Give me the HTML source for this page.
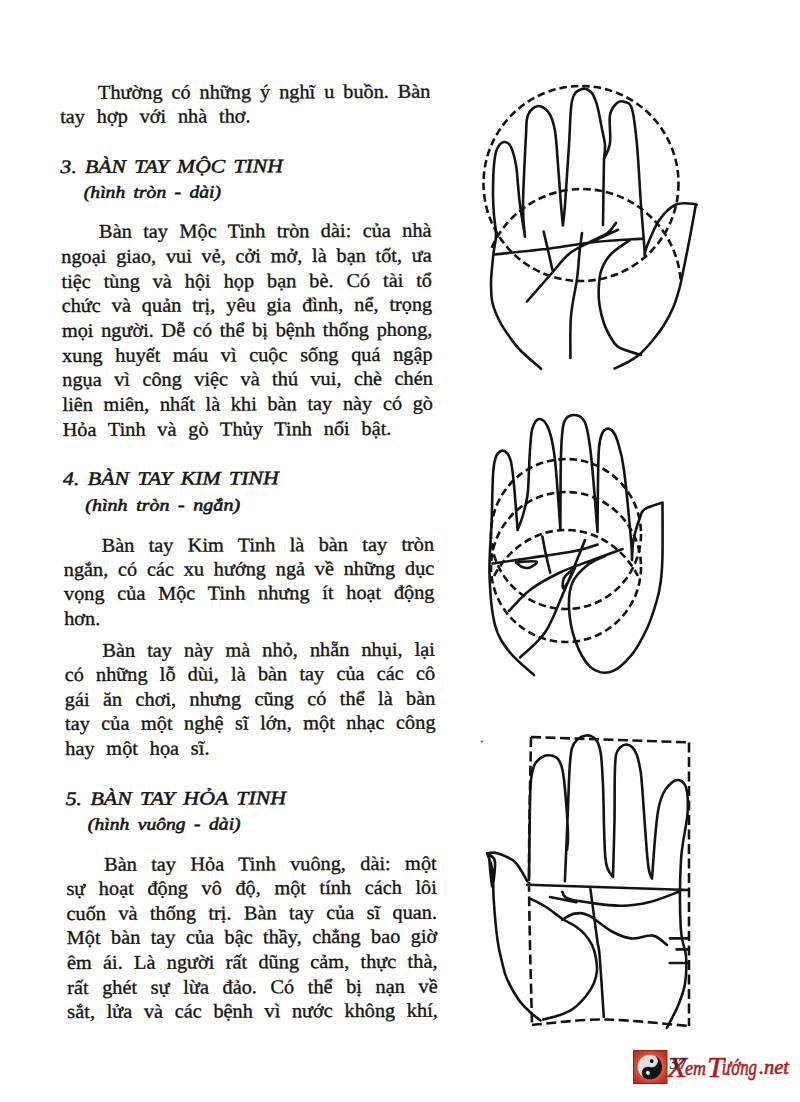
<!DOCTYPE html>
<html><head><meta charset="utf-8"><style>
html,body{margin:0;padding:0;background:#fff;}
body{width:800px;height:1102px;position:relative;overflow:hidden;}
#tx{position:absolute;left:0;top:0;width:800px;height:1102px;transform-origin:60px 98px;transform:matrix(1,-0.0035,0.008,1,0,0);color:#141414;-webkit-text-stroke:0.35px #141414;}
#tx div{position:absolute;height:24px;line-height:24px;white-space:nowrap;transform-origin:0 0;}
#tx .bj,#tx .bl{font-family:"Liberation Serif",serif;font-size:19.5px;transform:scaleX(1.04);white-space:normal;overflow:visible;}
#tx .bj{text-align:justify;text-align-last:justify;}
#tx .bl{text-align:left;word-spacing:6.5px;}
#tx .hd{font-family:"Liberation Serif",serif;font-style:italic;font-size:19.0px;word-spacing:2.5px;-webkit-text-stroke:0.5px #141414;}
#tx .sb{font-family:"Liberation Serif",serif;font-style:italic;font-weight:normal;-webkit-text-stroke:0.6px #141414;font-size:17.0px;word-spacing:3px;}
svg{position:absolute;left:0;top:0;}
</style></head><body>
<div id="tx">
<div class="bj" style="top:80.62px;left:97.50px;width:319.71px">Thường có những ý nghĩ u buồn. Bàn</div>
<div class="bl" style="top:105.12px;left:59.50px;width:356.25px">tay hợp với nhà thơ.</div>
<div class="hd" style="top:154.59px;left:59.50px;transform:scaleX(1.1403)">3. BÀN TAY MỘC TINH</div>
<div class="sb" style="top:181.01px;left:83.00px;transform:scaleX(1.1533)">(hình tròn - dài)</div>
<div class="bj" style="top:220.12px;left:97.50px;width:319.71px">Bàn tay Mộc Tinh tròn dài: của nhà</div>
<div class="bj" style="top:244.82px;left:59.50px;width:356.25px">ngoại giao, vui vẻ, cởi mở, là bạn tốt, ưa</div>
<div class="bj" style="top:269.82px;left:59.50px;width:356.25px">tiệc tùng và hội họp bạn bè. Có tài tổ</div>
<div class="bj" style="top:294.32px;left:59.50px;width:356.25px">chức và quản trị, yêu gia đình, nể, trọng</div>
<div class="bj" style="top:318.82px;left:59.50px;width:356.25px">mọi người. Dễ có thể bị bệnh thống phong,</div>
<div class="bj" style="top:343.92px;left:59.50px;width:356.25px">xung huyết máu vì cuộc sống quá ngập</div>
<div class="bj" style="top:368.02px;left:59.50px;width:356.25px">ngụa vì công việc và thú vui, chè chén</div>
<div class="bj" style="top:392.92px;left:59.50px;width:356.25px">liên miên, nhất là khi bàn tay này có gò</div>
<div class="bl" style="top:417.62px;left:59.50px;width:356.25px">Hỏa Tinh và gò Thủy Tinh nổi bật.</div>
<div class="hd" style="top:467.19px;left:59.50px;transform:scaleX(1.1507)">4. BÀN TAY KIM TINH</div>
<div class="sb" style="top:494.16px;left:82.00px;transform:scaleX(1.1788)">(hình tròn - ngắn)</div>
<div class="bj" style="top:533.52px;left:97.50px;width:319.71px">Bàn tay Kim Tinh là bàn tay tròn</div>
<div class="bj" style="top:557.52px;left:59.50px;width:356.25px">ngắn, có các xu hướng ngả về những dục</div>
<div class="bj" style="top:582.02px;left:59.50px;width:356.25px">vọng của Mộc Tinh nhưng ít hoạt động</div>
<div class="bl" style="top:606.62px;left:59.50px;width:356.25px">hơn.</div>
<div class="bj" style="top:639.12px;left:97.50px;width:319.71px">Bàn tay này mà nhỏ, nhẵn nhụi, lại</div>
<div class="bj" style="top:663.02px;left:59.50px;width:356.25px">có những lỗ dùi, là bàn tay của các cô</div>
<div class="bj" style="top:687.72px;left:59.50px;width:356.25px">gái ăn chơi, nhưng cũng có thể là bàn</div>
<div class="bj" style="top:712.42px;left:59.50px;width:356.25px">tay của một nghệ sĩ lớn, một nhạc công</div>
<div class="bl" style="top:737.12px;left:59.50px;width:356.25px">hay một họa sĩ.</div>
<div class="hd" style="top:786.59px;left:59.50px;transform:scaleX(1.1518)">5. BÀN TAY HỎA TINH</div>
<div class="sb" style="top:812.86px;left:82.00px;transform:scaleX(1.1554)">(hình vuông - dài)</div>
<div class="bj" style="top:852.82px;left:97.50px;width:319.71px">Bàn tay Hỏa Tinh vuông, dài: một</div>
<div class="bj" style="top:877.42px;left:59.50px;width:356.25px">sự hoạt động vô độ, một tính cách lôi</div>
<div class="bj" style="top:901.92px;left:59.50px;width:356.25px">cuốn và thống trị. Bàn tay của sĩ quan.</div>
<div class="bj" style="top:926.42px;left:59.50px;width:356.25px">Một bàn tay của bậc thầy, chẳng bao giờ</div>
<div class="bj" style="top:951.02px;left:59.50px;width:356.25px">êm ái. Là người rất dũng cảm, thực thà,</div>
<div class="bj" style="top:976.02px;left:59.50px;width:356.25px">rất ghét sự lừa đảo. Có thể bị nạn về</div>
<div class="bj" style="top:1000.22px;left:59.50px;width:356.25px">sắt, lửa và các bệnh vì nước không khí,</div>
</div>
<svg width="800" height="1102" viewBox="0 0 800 1102" fill="none" stroke="#141414" stroke-width="2.6" stroke-linecap="round" stroke-linejoin="round">
<path d="M541.0 368.8C537.7 365.8 526.2 356.2 521.0 351.0C515.8 345.8 513.6 342.5 510.0 337.5C506.4 332.5 502.4 326.8 499.5 321.0C496.6 315.2 493.9 309.0 492.5 303.0C491.1 297.0 491.1 290.8 491.0 285.0C490.9 279.2 491.5 273.7 492.0 268.0C492.5 262.3 493.1 256.3 493.8 250.8C494.5 245.3 496.0 241.0 496.0 235.0C496.0 229.0 494.5 221.7 494.0 215.0C493.5 208.3 493.0 203.3 493.0 195.0C493.0 186.7 493.3 172.7 494.0 165.0C494.7 157.3 495.3 152.8 497.0 149.0C498.7 145.2 501.7 142.3 504.0 142.0C506.3 141.7 509.0 143.2 511.0 147.0C513.0 150.8 514.8 158.7 516.0 165.0C517.2 171.3 517.3 178.3 518.0 185.0C518.7 191.7 518.8 196.4 520.0 205.0C521.2 213.6 524.2 231.5 525.0 236.8 M525.0 236.8C524.7 231.5 522.8 222.0 523.0 205.0C523.2 188.0 525.2 150.0 526.0 135.0C526.8 120.0 526.0 119.8 528.0 115.0C530.0 110.2 534.5 106.3 538.0 106.0C541.5 105.7 546.2 108.8 549.0 113.0C551.8 117.2 553.5 122.3 555.0 131.0C556.5 139.7 557.0 152.7 558.0 165.0C559.0 177.3 560.2 194.9 561.0 205.0C561.8 215.1 562.6 222.0 562.9 225.4 M562.9 225.4C563.2 222.0 564.0 218.4 565.0 205.0C566.0 191.6 567.8 162.3 569.0 145.0C570.2 127.7 570.0 110.3 572.0 101.0C574.0 91.7 577.8 90.9 581.0 89.4C584.2 87.9 588.3 89.4 591.0 92.0C593.7 94.6 595.2 98.8 597.0 105.0C598.8 111.2 600.7 122.3 602.0 129.0C603.3 135.7 604.7 140.0 605.0 145.0C605.3 150.0 604.2 156.7 604.0 159.0 M604.0 159.0C605.0 156.3 609.0 150.3 610.0 143.0C611.0 135.7 608.8 121.7 610.0 115.0C611.2 108.3 614.5 105.2 617.0 103.0C619.5 100.8 622.5 101.0 625.0 102.0C627.5 103.0 630.0 101.8 632.0 109.0C634.0 116.2 635.5 129.0 637.0 145.0C638.5 161.0 639.8 188.8 641.0 205.0C642.2 221.2 643.4 234.2 644.0 242.5C644.6 250.8 644.6 252.9 644.7 255.0 M604.0 159.0C603.9 164.2 603.7 179.0 603.5 190.0C603.3 201.0 603.1 219.2 603.0 225.0 M644.7 255.0C645.1 253.5 644.6 251.8 647.0 246.0C649.4 240.2 654.2 227.4 659.0 220.5C663.8 213.6 669.6 207.4 675.6 204.7C681.6 201.9 691.7 203.8 695.0 204.0C698.3 204.2 695.5 205.7 695.6 206.0 M695.6 206.0C694.5 212.0 691.3 230.2 689.0 242.0C686.7 253.8 683.7 269.0 682.0 277.0C680.3 285.0 680.5 284.8 679.0 290.0C677.5 295.2 675.5 302.2 673.0 308.0C670.5 313.8 667.3 319.7 664.0 325.0C660.7 330.3 657.0 335.2 653.0 340.0C649.0 344.8 644.2 350.3 640.0 354.0C635.8 357.7 632.2 359.6 628.0 362.0C623.8 364.4 616.8 367.4 614.5 368.5 M493.8 254.5C503.2 253.5 533.1 250.6 550.0 248.5C566.9 246.4 579.5 243.7 595.0 242.0C610.5 240.3 635.0 239.2 643.0 238.6 M527.0 301.5C531.1 296.8 544.5 281.4 551.5 273.5C558.5 265.6 562.6 259.2 569.0 254.0C575.4 248.8 583.6 245.5 590.0 242.0C596.4 238.5 603.2 236.2 607.5 233.0C611.8 229.8 614.6 224.5 616.0 222.8 M583.0 245.5C585.8 244.2 594.2 240.6 600.0 238.0C605.8 235.4 615.0 231.2 618.0 229.8 M543.6 231.5C544.3 234.6 546.5 243.6 548.0 250.0C549.5 256.4 551.7 266.7 552.4 270.0 M582.0 233.0C581.6 236.2 580.3 244.9 579.5 252.5C578.7 260.1 578.4 268.2 577.0 278.8C575.6 289.4 572.1 302.8 571.0 316.0C569.9 329.2 570.5 351.0 570.4 358.0 M630.0 240.0C626.8 242.3 615.8 249.0 611.0 254.0C606.2 259.0 603.4 264.4 601.4 270.0C599.4 275.6 599.1 281.7 598.8 287.5C598.5 293.3 598.6 299.0 599.5 305.0C600.4 311.0 602.1 318.0 604.0 323.5C605.9 329.0 608.8 334.2 611.0 338.0C613.2 341.8 614.7 344.0 617.0 346.0C619.3 348.0 621.0 348.5 625.0 350.0C629.0 351.5 638.3 354.2 641.0 355.0 M534.0 675.0C530.0 671.2 516.5 660.8 510.0 652.5C503.5 644.2 498.4 638.1 495.0 625.0C491.6 611.9 490.0 591.7 489.5 573.8C489.0 555.8 491.2 534.0 491.8 517.5C492.3 501.0 492.4 484.9 493.0 475.0C493.6 465.1 494.2 462.0 495.5 458.0C496.8 454.0 499.1 451.8 501.0 451.0C502.9 450.2 505.3 451.2 507.0 453.0C508.7 454.8 509.8 456.7 511.0 462.0C512.2 467.3 512.9 473.7 514.0 485.0C515.1 496.3 517.0 522.5 517.6 530.0 M517.6 530.0C518.5 527.5 521.4 520.8 523.0 515.0C524.6 509.2 526.5 502.5 527.5 495.0C528.5 487.5 528.6 477.5 529.0 470.0C529.4 462.5 529.4 457.0 530.0 450.0C530.6 443.0 530.8 433.2 532.5 428.0C534.2 422.8 537.2 418.7 540.0 419.0C542.8 419.3 546.5 423.2 549.0 430.0C551.5 436.8 553.1 443.3 555.0 460.0C556.9 476.7 559.5 518.3 560.4 530.0 M560.4 530.0C560.5 517.5 560.4 472.9 561.0 455.0C561.6 437.1 561.8 429.2 564.0 422.5C566.2 415.8 570.5 415.0 574.0 415.0C577.5 415.0 582.2 415.8 585.0 422.5C587.8 429.2 588.9 436.8 591.0 455.0C593.1 473.2 596.4 519.2 597.5 532.0 M597.5 532.0C597.6 523.3 597.8 494.0 598.0 480.0C598.2 466.0 598.4 455.5 599.0 448.0C599.6 440.5 600.3 438.2 601.5 435.0C602.7 431.8 604.2 429.8 606.0 429.0C607.8 428.2 610.1 428.5 612.0 430.5C613.9 432.5 615.5 434.4 617.5 441.0C619.5 447.6 621.8 453.5 624.0 470.0C626.2 486.5 629.7 525.0 631.0 540.0C632.3 555.0 631.8 556.7 632.0 560.0 M632.0 560.0C632.2 556.7 632.2 547.1 633.5 540.0C634.8 532.9 638.1 522.7 640.0 517.5C641.9 512.3 641.2 511.5 645.0 509.0C648.8 506.5 659.6 503.6 662.5 502.5 M662.5 502.5C662.5 511.2 662.8 541.9 662.5 555.0C662.2 568.1 661.8 573.3 660.8 581.0C659.8 588.7 659.0 593.1 656.7 601.0C654.4 608.9 651.3 619.4 647.0 628.5C642.7 637.6 637.1 648.5 631.0 655.7C624.9 663.0 617.2 670.2 610.4 672.0C603.6 673.8 595.9 671.9 590.0 666.6C584.1 661.3 578.5 649.9 575.0 640.0C571.5 630.1 569.4 617.1 569.0 607.5C568.6 597.9 569.4 589.6 572.5 582.5C575.6 575.4 582.1 569.4 587.5 565.0C592.9 560.6 602.1 557.5 605.0 556.0 M492.5 563.5C498.8 562.6 516.2 560.1 530.0 558.0C543.8 555.9 563.8 553.2 575.0 551.0C586.2 548.8 593.8 545.6 597.5 544.5 M509.0 611.0C512.5 607.5 521.5 596.4 530.0 590.0C538.5 583.6 549.6 577.5 560.0 572.5C570.4 567.5 582.1 563.9 592.5 560.0C602.9 556.1 617.5 550.8 622.5 549.0 M520.0 657.5C524.2 653.3 537.9 642.9 545.0 632.5C552.1 622.1 556.7 608.3 562.5 595.0C568.3 581.7 576.2 561.7 580.0 552.5C583.8 543.3 584.2 542.1 585.0 540.0 M542.4 536.6C543.0 539.7 544.7 549.0 546.0 555.0C547.3 561.0 549.5 569.7 550.2 572.6 M516.0 562.5C517.0 563.2 519.7 566.2 522.0 567.0C524.3 567.8 527.5 568.3 530.0 567.5C532.5 566.7 537.5 563.0 537.0 562.0C536.5 561.0 530.5 561.4 527.0 561.5C523.5 561.6 517.8 562.3 516.0 562.5 M572.0 570.0C570.7 571.3 565.5 575.0 564.0 578.0C562.5 581.0 562.3 587.3 563.0 588.0C563.7 588.7 566.0 585.3 568.0 582.0C570.0 578.7 573.8 570.3 575.0 568.0 M529.0 880.0C529.2 866.7 529.6 817.3 530.0 800.0C530.4 782.7 530.6 782.2 531.5 776.0C532.4 769.8 533.6 766.2 535.5 763.0C537.4 759.8 540.4 757.8 543.0 756.5C545.6 755.2 548.5 755.1 551.0 755.5C553.5 755.9 556.1 756.6 558.0 759.0C559.9 761.4 561.2 764.0 562.5 770.0C563.8 776.0 564.6 784.2 565.5 795.0C566.4 805.8 567.8 825.3 568.0 834.5C568.2 843.7 567.2 847.4 567.0 850.0 M564.9 881.2C565.3 871.0 566.7 838.5 567.5 820.0C568.3 801.5 568.8 782.0 569.5 770.0C570.2 758.0 570.6 753.2 572.0 748.0C573.4 742.8 575.7 741.1 578.0 739.0C580.3 736.9 583.5 735.8 586.0 735.5C588.5 735.2 591.0 735.8 593.0 737.0C595.0 738.2 596.7 740.0 598.0 743.0C599.3 746.0 600.2 748.0 601.0 755.0C601.8 762.0 602.2 767.7 603.0 785.0C603.8 802.3 603.8 843.7 605.5 859.0C607.2 874.3 611.8 873.9 613.0 876.9 M613.0 876.9C613.2 867.4 614.2 837.0 614.5 820.0C614.8 803.0 614.5 785.8 614.8 775.0C615.0 764.2 615.1 759.6 616.0 755.0C616.9 750.4 618.3 749.2 620.0 747.5C621.7 745.8 624.0 744.6 626.0 744.5C628.0 744.4 630.2 745.3 632.0 747.0C633.8 748.7 635.4 751.2 636.8 754.8C638.1 758.2 639.1 763.0 640.0 768.0C640.9 773.0 640.7 769.3 642.0 785.0C643.3 800.7 646.1 846.4 647.8 862.0C649.4 877.6 651.3 875.8 652.0 878.5 M652.0 878.5C653.1 866.6 655.3 823.1 658.8 807.0C662.2 790.9 668.1 785.7 672.5 782.0C676.9 778.3 682.5 779.9 685.0 785.0C687.5 790.1 688.3 800.0 687.6 812.5C686.9 825.0 682.1 840.6 681.0 860.0C679.9 879.4 679.9 912.8 680.8 928.8C681.6 944.8 685.3 946.8 686.0 956.0C686.7 965.2 686.3 975.5 685.0 983.8C683.7 992.0 681.0 998.4 678.0 1005.8C675.0 1013.1 668.8 1024.1 667.0 1027.8 M527.2 881.2C525.2 878.0 520.0 866.7 515.0 862.0C510.0 857.3 502.2 854.7 497.5 853.2C492.8 851.8 488.8 853.2 487.0 853.2 M487.0 853.2C487.9 856.0 491.3 862.0 492.4 870.0C493.5 878.0 492.9 889.3 493.8 901.0C494.6 912.7 496.1 929.8 497.5 940.0C498.9 950.2 500.4 955.5 502.0 962.0C503.6 968.5 504.2 972.8 507.0 979.0C509.8 985.2 514.7 994.0 518.5 999.5C522.3 1005.0 526.3 1008.5 530.0 1012.0C533.7 1015.5 538.8 1019.1 540.5 1020.5 M489.0 856.0C489.5 861.1 491.2 885.5 492.2 886.5C493.2 887.5 495.4 867.2 495.0 862.0C494.6 856.8 490.8 856.2 490.0 855.0 M527.2 884.8L689.0 890.0 M562.2 891.8C563.7 893.1 561.4 897.3 571.0 899.6C580.6 901.9 606.8 905.4 620.0 905.8C633.2 906.1 640.1 904.4 650.0 902.0C659.9 899.6 674.5 893.3 679.4 891.6 M550.0 897.0L576.2 902.2 M530.8 898.8C533.3 900.1 540.7 903.6 546.0 907.0C551.3 910.4 557.7 915.8 562.5 919.0C567.3 922.2 571.3 923.5 575.0 926.0C578.7 928.5 581.7 930.8 584.5 934.0C587.3 937.2 590.2 941.3 592.0 945.0C593.8 948.7 594.7 951.8 595.5 956.0C596.3 960.2 597.2 965.5 597.0 970.0C596.8 974.5 595.8 978.7 594.0 983.0C592.2 987.3 589.4 991.8 586.0 996.0C582.6 1000.2 577.8 1005.3 573.5 1008.5C569.2 1011.7 565.0 1013.2 560.0 1015.0C555.0 1016.8 546.0 1018.8 543.2 1019.5 M562.2 919.8C564.3 918.7 570.1 914.3 574.5 913.6C578.9 912.9 582.2 912.4 588.5 915.4C594.8 918.4 604.9 927.7 612.0 931.5C619.1 935.3 624.2 937.7 631.0 938.4C637.8 939.1 647.0 934.5 653.0 935.6C659.0 936.7 664.7 943.4 667.0 945.0 M590.2 887.4C591.4 896.2 595.7 928.6 597.2 940.0C598.8 951.4 598.5 943.2 599.6 956.0C600.7 968.8 603.1 1006.6 603.8 1016.8 M669.8 938.4L687.6 938.4 M676.6 949.4L687.6 949.4 M669.8 963.0L687.6 963.0"/>
<g stroke-dasharray="7.5 4" stroke-linecap="butt">
<circle cx="581" cy="183.5" r="97.5"/>
<circle cx="566" cy="534" r="75"/>
<circle cx="566" cy="567" r="75"/>
<path d="M491.6 247.7A99 99 0 0 1 680.7 280.1 M494.1 576.0A83 92 0 0 1 637.9 576.0"/>
</g>
<path stroke-dasharray="10 4.5" stroke-linecap="butt" d="M531.0 737.0L689.0 742.4 M689.0 742.4L689.0 1026.0 M531.0 737.0C530.7 760.8 528.8 832.0 529.0 880.0C529.2 928.0 531.5 1000.8 532.0 1025.0 M532.0 1025.0C544.0 1024.1 577.8 1019.3 604.0 1019.5C630.2 1019.7 674.8 1024.9 689.0 1026.0"/>
<ellipse cx="482" cy="741.5" rx="1.3" ry="0.9" fill="#666" stroke="none"/>
</svg>
<svg width="800" height="1102" viewBox="0 0 800 1102" style="position:absolute;left:0;top:0">
<defs>
<radialGradient id="rg" cx="50%" cy="50%" r="60%">
<stop offset="0" stop-color="#f3b3a0"/><stop offset="0.5" stop-color="#e2705a"/><stop offset="0.75" stop-color="#d2452c"/><stop offset="1" stop-color="#bf2f1c"/>
</radialGradient>
</defs>
<rect x="633.5" y="1050.5" width="33.5" height="33" fill="url(#rg)" stroke="#8e2617" stroke-width="1"/>
<g transform="translate(649.8 1067) rotate(18)">
<circle r="12.3" fill="#121212"/>
<path d="M0 -12.3A12.3 12.3 0 0 0 0 12.3A6.15 6.15 0 0 1 0 0A6.15 6.15 0 0 0 0 -12.3Z" fill="#dedede"/>
<circle cy="-6.15" r="1.9" fill="#111"/>
<circle cy="6.15" r="2" fill="#e6e6e6"/>
</g>
<g fill="#b01b1b" stroke="#b01b1b" stroke-width="0.6" font-family="Liberation Serif" font-style="italic">
<text x="667" y="1077" font-size="30" textLength="20" lengthAdjust="spacingAndGlyphs">X</text>
<text x="685" y="1075" font-size="22" textLength="21" lengthAdjust="spacingAndGlyphs">em</text>
<text x="707" y="1077" font-size="30" textLength="17" lengthAdjust="spacingAndGlyphs">T</text>
<text x="722" y="1075" font-size="23" textLength="35" lengthAdjust="spacingAndGlyphs">ướng</text>
<text x="759" y="1074" font-size="20" textLength="30" lengthAdjust="spacingAndGlyphs">.net</text>
</g>
<text x="669" y="1069" font-family="Liberation Serif" font-weight="bold" font-size="17" fill="#1c2433" fill-opacity="0.85" textLength="18" lengthAdjust="spacingAndGlyphs">37</text>
</svg>

</body></html>
